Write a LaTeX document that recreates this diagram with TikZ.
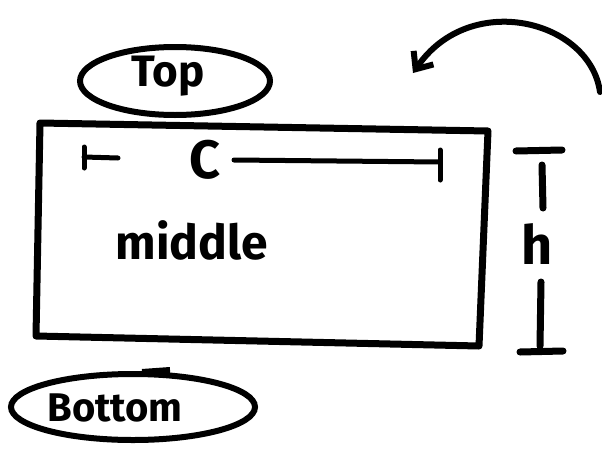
\documentclass[tikz,border=0pt]{standalone}
\usepackage{fontspec}
\setmainfont{Fira Sans}
\usetikzlibrary{arrows.meta}
\begin{document}
\begin{tikzpicture}[x=1pt,y=-1pt,
  ink/.style={line width=7pt,line cap=round,line join=round,black},
  thinink/.style={line width=5pt,line cap=round,black},
  lab/.style={font=\bfseries\fontsize{30}{30}\selectfont,inner sep=0pt}]
\useasboundingbox (0,0) rectangle (602,450);
% main rectangle
\coordinate (tl) at (40,123);
\coordinate (tr) at (488,131);
\coordinate (br) at (479,346);
\coordinate (bl) at (36,336);
\draw[ink] (tl) -- (tr) -- (br) -- (bl) -- cycle;
% top ellipse
\node[lab,font=\bfseries\fontsize{44}{44}\selectfont] (top) at (168,76) {Top};
\draw[line width=6pt] (175,81) ellipse [x radius=95,y radius=34];
% bottom ellipse
\node[lab,font=\bfseries\fontsize{40}{40}\selectfont] (bottom) at (115,408) {Bottom};
\draw[line width=6pt] (133,407) ellipse [x radius=122,y radius=33];
\draw[line width=6pt] (142,372) -- (170,370);
% c dimension
\node[lab,font=\bfseries\fontsize{54}{54}\selectfont] (c) at (205,160) {C};
\coordinate (cl) at (84,157);
\coordinate (cr) at (440,162);
\draw[thinink] (84,147) -- (84,168);
\draw[thinink] (440,150) -- (440,180);
\draw[thinink] (cl) -- (118,158);
\draw[thinink] (234,160) -- (cr);
% middle
\node[lab,font=\bfseries\fontsize{48}{48}\selectfont] (mid) at (192,240) {middle};
% h dimension
\node[lab,font=\bfseries\fontsize{54}{54}\selectfont] (h) at (537,244) {h};
\draw[ink] (516,151) -- (562,150);
\draw[ink] (542,165) -- (543,208);
\draw[ink] (541,282) -- (540,346);
\draw[ink] (520,352) -- (563,351);
% curved arrow
\coordinate (as) at (600,92);
\coordinate (ae) at (413,73);
\draw[ink,line width=6pt,-{Straight Barb[length=14pt,width=24pt,line width=6pt]}] (as) .. controls (590,20) and (470,-10) .. (ae);
\end{tikzpicture}
\end{document}
